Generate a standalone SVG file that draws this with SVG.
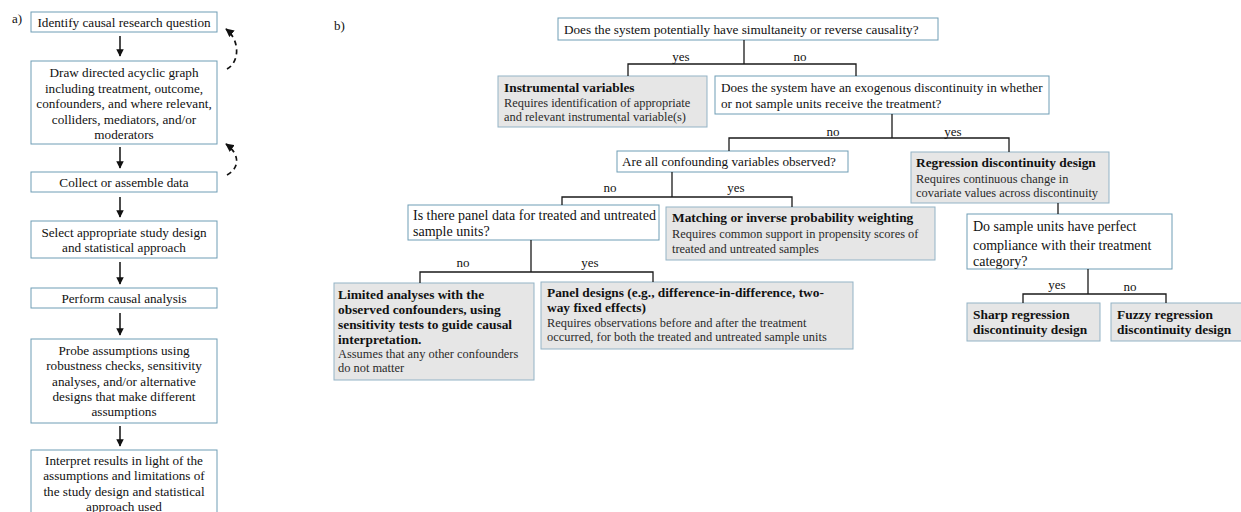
<svg xmlns="http://www.w3.org/2000/svg" width="1241" height="512" viewBox="0 0 1241 512">
<style>
text{font-family:"Liberation Serif","Times New Roman",serif;fill:#111;}
.t{font-size:13.2px;}
.l{font-size:13px;}
.q{font-size:13.2px;}
.qq{font-size:14px;}
.b{font-size:13.4px;font-weight:bold;}
.s{font-size:12.4px;fill:#2a2a2a;}
.c{text-anchor:middle;}
.wb{fill:#fff;stroke:#6f9db5;stroke-width:1;}
.gb{fill:#e6e6e6;stroke:#93b3c6;stroke-width:1;}
.ln{fill:none;stroke:#1a1a1a;stroke-width:1.3;}
.ar{fill:none;stroke:#111;stroke-width:1.5;}
.da{fill:none;stroke:#111;stroke-width:1.7;stroke-dasharray:5,4;}
</style>
<defs>
<marker id="ah" viewBox="0 0 10 10" refX="9" refY="5" markerWidth="5" markerHeight="5" orient="auto"><path d="M0,0 L10,5 L0,10 z" fill="#111"/></marker>
</defs>
<text x="12" y="23" class="l">a)</text>
<text x="334" y="30" class="l">b)</text>

<g id="a1"><rect x="31" y="12" width="186" height="20" class="wb"/><text x="124" y="27" class="t c">Identify causal research question</text></g>
<g id="a2"><rect x="31" y="61" width="186" height="83" class="wb"/>
<text x="124" y="77" class="t c">Draw directed acyclic graph</text>
<text x="124" y="92.5" class="t c">including treatment, outcome,</text>
<text x="124" y="108" class="t c">confounders, and where relevant,</text>
<text x="124" y="123.5" class="t c">colliders, mediators, and/or</text>
<text x="124" y="139" class="t c">moderators</text></g>
<g id="a3"><rect x="31" y="172" width="186" height="20" class="wb"/><text x="124" y="187" class="t c">Collect or assemble data</text></g>
<g id="a4"><rect x="31" y="221" width="186" height="37" class="wb"/>
<text x="124" y="237" class="t c">Select appropriate study design</text>
<text x="124" y="252" class="t c">and statistical approach</text></g>
<g id="a5"><rect x="31" y="288" width="186" height="20" class="wb"/><text x="124" y="302.5" class="t c">Perform causal analysis</text></g>
<g id="a6"><rect x="31" y="339" width="186" height="84" class="wb"/>
<text x="124" y="355" class="t c">Probe assumptions using</text>
<text x="124" y="370" class="t c">robustness checks, sensitivity</text>
<text x="124" y="386" class="t c">analyses, and/or alternative</text>
<text x="124" y="401" class="t c">designs that make different</text>
<text x="124" y="416" class="t c">assumptions</text></g>
<g id="a7"><rect x="31" y="450" width="186" height="66" class="wb"/>
<text x="124" y="465" class="t c">Interpret results in light of the</text>
<text x="124" y="480" class="t c">assumptions and limitations of</text>
<text x="124" y="496" class="t c">the study design and statistical</text>
<text x="124" y="511" class="t c">approach used</text></g>

<g id="b-root"><rect x="558" y="18" width="380" height="22" class="wb"/><text x="564" y="34" class="q">Does the system potentially have simultaneity or reverse causality?</text></g>
<g id="b-iv"><rect x="498" y="76" width="209" height="51" class="gb"/>
<text x="504" y="92" class="b">Instrumental variables</text>
<text x="504" y="107" class="s">Requires identification of  appropriate</text>
<text x="504" y="121" class="s">and relevant instrumental variable(s)</text></g>
<g id="b-exo"><rect x="715" y="76" width="334" height="38" class="wb"/>
<text x="721" y="92" class="q">Does the system have an exogenous discontinuity in whether</text>
<text x="721" y="108" class="q">or not sample units receive the treatment?</text></g>
<g id="b-conf"><rect x="617" y="151" width="231" height="21" class="wb"/><text x="622" y="166" class="q">Are all confounding variables observed?</text></g>
<g id="b-rdd"><rect x="911" y="152" width="198" height="51" class="gb"/>
<text x="916" y="167" class="b">Regression discontinuity design</text>
<text x="916" y="183" class="s">Requires continuous change in</text>
<text x="916" y="197" class="s">covariate values across discontinuity</text></g>
<g id="b-panelq"><rect x="408" y="205" width="251" height="35" class="wb"/>
<text x="413" y="220" class="qq">Is there panel data for treated and untreated</text>
<text x="413" y="236" class="qq">sample units?</text></g>
<g id="b-match"><rect x="666" y="207" width="269" height="53" class="gb"/>
<text x="672" y="222" class="b">Matching or inverse probability weighting</text>
<text x="672" y="238" class="s">Requires common support in propensity scores of</text>
<text x="672" y="253" class="s">treated and untreated samples</text></g>
<g id="b-comp"><rect x="967" y="214" width="205" height="55" class="wb"/>
<text x="973" y="231" class="qq">Do sample units have perfect</text>
<text x="973" y="250" class="qq">compliance with their treatment</text>
<text x="973" y="266" class="qq">category?</text></g>
<g id="b-lim"><rect x="334" y="283" width="200" height="97" class="gb"/>
<text x="338" y="299" class="b">Limited analyses with the</text>
<text x="338" y="314" class="b">observed confounders, using</text>
<text x="338" y="329" class="b">sensitivity tests to guide causal</text>
<text x="338" y="344" class="b">interpretation.</text>
<text x="338" y="358" class="s">Assumes that any other confounders</text>
<text x="338" y="372" class="s">do not matter</text></g>
<g id="b-panel"><rect x="541" y="282" width="312" height="67" class="gb"/>
<text x="547" y="297" class="b">Panel designs (e.g., difference-in-difference, two-</text>
<text x="547" y="312" class="b">way fixed effects)</text>
<text x="547" y="327" class="s">Requires observations before and after the treatment</text>
<text x="547" y="341" class="s">occurred, for both the treated and untreated sample units</text></g>
<g id="b-sharp"><rect x="967" y="303" width="133" height="38" class="gb"/>
<text x="973" y="319" class="b">Sharp regression</text>
<text x="973" y="334" class="b">discontinuity design</text></g>
<g id="b-fuzzy"><rect x="1111" y="303" width="131" height="38" class="gb"/>
<text x="1117" y="319" class="b">Fuzzy regression</text>
<text x="1117" y="334" class="b">discontinuity design</text></g>

<g id="connectors">
<line x1="120" y1="36" x2="120" y2="56" class="ar" marker-end="url(#ah)"/>
<line x1="120" y1="147" x2="120" y2="168" class="ar" marker-end="url(#ah)"/>
<line x1="120" y1="197" x2="120" y2="217" class="ar" marker-end="url(#ah)"/>
<line x1="120" y1="262" x2="120" y2="284" class="ar" marker-end="url(#ah)"/>
<line x1="120" y1="313" x2="120" y2="335" class="ar" marker-end="url(#ah)"/>
<line x1="120" y1="426" x2="120" y2="446" class="ar" marker-end="url(#ah)"/>
<path d="M227,69 C240,62 240,40 226,29" class="da" marker-end="url(#ah)"/>
<path d="M227,175 C240,168 240,154 226,144" class="da" marker-end="url(#ah)"/>

<polyline points="744,40 744,64" class="ln"/>
<polyline points="628,76 628,64 856,64 856,76" class="ln"/>
<polyline points="892,114 892,138" class="ln"/>
<polyline points="729,151 729,138 1009,138 1009,152" class="ln"/>
<polyline points="672,172 672,197" class="ln"/>
<polyline points="562,205 562,197 792,197 792,207" class="ln"/>
<polyline points="531,240 531,272" class="ln"/>
<polyline points="420,283 420,272 653,272 653,282" class="ln"/>
<polyline points="1058,203 1058,214" class="ln"/>
<polyline points="1088,269 1088,294" class="ln"/>
<polyline points="1023,303 1023,294 1166,294 1166,303" class="ln"/>

<text x="681" y="61" class="l c">yes</text>
<text x="800" y="61" class="l c">no</text>
<text x="833" y="136" class="l c">no</text>
<text x="953" y="136" class="l c">yes</text>
<text x="610" y="192" class="l c">no</text>
<text x="736" y="192" class="l c">yes</text>
<text x="463" y="267" class="l c">no</text>
<text x="590" y="267" class="l c">yes</text>
<text x="1057" y="289" class="l c">yes</text>
<text x="1130" y="291" class="l c">no</text>
</g>
</svg>
